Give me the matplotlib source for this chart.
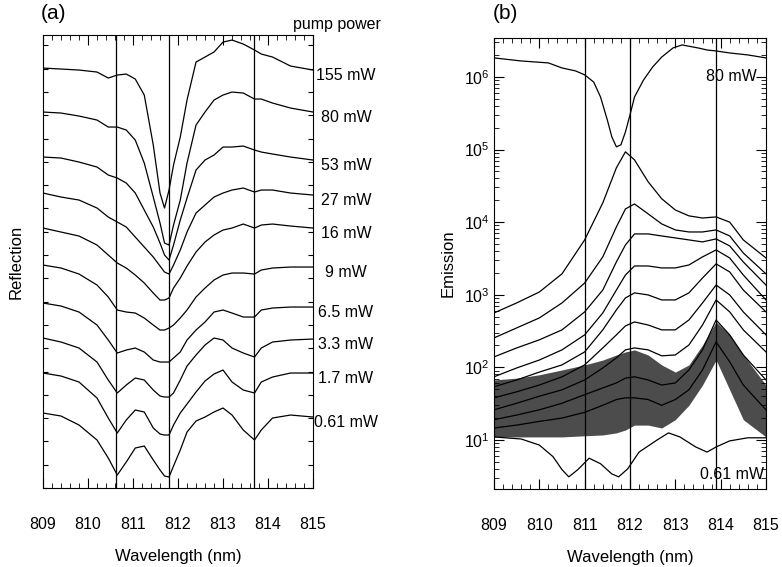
import numpy as np
import matplotlib
matplotlib.use("Agg")
import matplotlib.pyplot as plt
import matplotlib.transforms as mtransforms
from matplotlib.ticker import (MultipleLocator, LogLocator, FixedLocator,
                               NullFormatter, LogFormatterSciNotation)

plt.rcParams['font.family'] = ['Liberation Sans', 'DejaVu Sans']
plt.rcParams['mathtext.fontset'] = 'custom'
plt.rcParams['mathtext.rm'] = 'Liberation Sans'
plt.rcParams['mathtext.default'] = 'regular'

# ---------------- (a) reflection spectra, stacked (arb. units) ----------------
wl_a = [809.0, 809.4, 809.8, 810.2, 810.45, 810.65, 810.85, 811.05, 811.25, 811.45,
        811.6, 811.7, 811.8, 811.9, 812.05, 812.2, 812.4, 812.6, 812.8, 813.0,
        813.2, 813.45, 813.7, 813.85, 814.1, 814.5, 815.0]

pump_labels = ['155 mW', '80 mW', '53 mW', '27 mW', '16 mW', '9 mW',
               '6.5 mW', '3.3 mW', '1.7 mW', '0.61 mW']

refl_155 = [420, 419, 418, 416, 410, 413, 414, 409, 393, 343, 295, 280, 298, 323, 351, 388,
            426, 431, 436, 446, 448, 444, 438, 434, 431, 422, 418]
refl_80 = [376, 375, 372, 368, 361, 361, 358, 348, 325, 291, 265, 245, 243, 263, 288, 325,
           363, 376, 388, 393, 396, 395, 389, 389, 385, 380, 376]
refl_53 = [331, 330, 326, 321, 313, 310, 305, 295, 278, 261, 245, 233, 228, 243, 268, 290,
           318, 328, 333, 341, 341, 342, 338, 336, 334, 331, 328]
refl_27 = [295, 291, 288, 280, 271, 266, 261, 251, 241, 231, 222, 216, 214, 223, 238, 256,
           275, 283, 291, 295, 298, 300, 296, 298, 298, 295, 293]
refl_16 = [260, 256, 252, 243, 233, 225, 220, 213, 205, 195, 188, 188, 190, 200, 210, 222,
           236, 246, 253, 258, 260, 264, 260, 263, 264, 262, 260]
refl_9 = [223, 220, 214, 203, 191, 178, 176, 175, 170, 163, 158, 158, 160, 163, 170, 178,
          191, 200, 208, 213, 215, 215, 214, 218, 220, 221, 221]
refl_6p5 = [185, 182, 176, 163, 148, 135, 138, 140, 136, 128, 126, 126, 126, 130, 136, 148,
            158, 166, 176, 178, 175, 171, 171, 178, 180, 181, 181]
refl_3p3 = [150, 146, 140, 126, 108, 95, 103, 110, 108, 98, 92, 91, 91, 95, 108, 122,
            133, 143, 150, 148, 140, 135, 131, 140, 146, 148, 149]
refl_1p7 = [115, 112, 106, 90, 70, 55, 68, 78, 76, 60, 54, 53, 53, 63, 75, 84,
            96, 107, 114, 118, 106, 98, 95, 106, 111, 115, 115]
refl_0p61 = [75, 72, 63, 48, 30, 13, 26, 40, 42, 28, 18, 12, 11, 22, 38, 56,
             67, 71, 76, 80, 73, 58, 48, 58, 70, 73, 71]

refl = [refl_155, refl_80, refl_53, refl_27, refl_16, refl_9,
        refl_6p5, refl_3p3, refl_1p7, refl_0p61]

lines_a = [810.62, 811.8, 813.69]

# ---------------- (b) emission spectra, log scale ----------------
wl_b = [809.0, 809.5, 810.0, 810.5, 811.0, 811.4, 811.7, 811.9, 812.1, 812.4,
        812.7, 813.0, 813.3, 813.6, 813.9, 814.2, 814.5, 815.0]

em_1 = [561, 771, 1090, 1940, 5690, 1.84e4, 5.6e4, 9.3e4, 7.2e4, 3.6e4,
        2.1e4, 1.47e4, 1.22e4, 1.14e4, 1.18e4, 1.0e4, 5690, 3210]
em_2 = [254, 349, 479, 771, 1450, 3320, 8590, 1.52e4, 1.78e4, 1.30e4,
        9450, 7810, 7320, 7320, 7810, 6450, 3760, 1940]
em_3 = [139, 185, 239, 328, 580, 1160, 2830, 4850, 6880, 6880,
        6450, 6060, 5690, 5340, 5870, 4700, 2830, 1360]
em_4 = [74, 98, 126, 174, 280, 561, 1160, 1870, 2490, 2490,
        2340, 2340, 2570, 3320, 4140, 3210, 1870, 848]
em_5 = [54, 67, 86, 108, 163, 328, 618, 903, 1060, 994,
        848, 848, 1060, 1700, 2660, 2060, 1160, 580]
em_6 = [38, 46, 57, 74, 108, 185, 280, 372, 422, 383,
        328, 328, 449, 771, 1360, 994, 580, 280]
em_7 = [26, 32, 40, 49, 67, 98, 135, 174, 185, 174,
        144, 148, 203, 383, 848, 580, 328, 163]
em_8 = [19, 22, 26, 32, 42, 52, 61, 71, 74, 67,
        57, 61, 92, 174, 449, 280, 148, 67]
em_9 = [14.6, 16, 18, 20, 24, 30, 36, 38, 38, 36,
        30, 36, 49, 92, 224, 119, 57, 26]
emission = [em_1, em_2, em_3, em_4, em_5, em_6, em_7, em_8, em_9]

# envelope of the noisy low-power traces
noise_hi = [67, 71, 79, 92, 108, 126, 148, 163, 174, 148,
            108, 86, 108, 203, 422, 280, 148, 57]
noise_lo = [11, 11, 11, 11, 11.4, 11.7, 12.5, 13.7, 16, 16,
            14.6, 19, 30, 57, 126, 49, 19, 11]

# top trace (80 mW) and bottom trace (0.61 mW)
top_wl = [809.0, 809.6, 810.2, 810.5, 810.8, 811.0, 811.2, 811.35, 811.5, 811.6,
          811.7, 811.8, 811.9, 812.0, 812.1, 812.3, 812.5, 812.7, 812.95, 813.15,
          813.5, 813.7, 813.9, 814.2, 814.6, 815.0]
top_em = [1.83e6, 1.66e6, 1.56e6, 1.33e6, 1.21e6, 1.07e6, 8.5e5, 5.3e5, 2.56e5, 1.49e5,
          1.09e5, 1.16e5, 1.75e5, 3.0e5, 5.3e5, 9.1e5, 1.37e6, 1.88e6, 2.51e6, 2.76e6,
          2.51e6, 2.35e6, 2.28e6, 2.14e6, 2.01e6, 1.83e6]

bot_wl = [809.0, 809.6, 810.0, 810.3, 810.5, 810.65, 810.85, 811.1, 811.35, 811.6,
          811.75, 811.95, 812.2, 812.6, 812.85, 813.1, 813.45, 813.7, 813.9, 814.2,
          814.6, 815.0]
bot_em = [11.0, 10.3, 8.5, 5.9, 3.9, 3.1, 3.9, 5.6, 4.7, 3.4,
          3.1, 4.0, 6.8, 10.0, 12.5, 11.0, 8.0, 6.8, 8.0, 9.7,
          10.7, 10.7]

lines_b = [811.0, 812.0, 813.9]
decades_b = [1e1, 1e2, 1e3, 1e4, 1e5, 1e6]

fig = plt.figure(figsize=(7.82, 5.67), dpi=100)
ax_a = fig.add_axes([0.0550, 0.1393, 0.3453, 0.7989])
ax_b = fig.add_axes([0.6317, 0.1376, 0.3478, 0.7954])

lw = 0.9
fs = 11.5

# ---- panel (a)
for x in lines_a:
    ax_a.axvline(x, color='black', lw=lw)
for curve in refl:
    ax_a.plot(wl_a, curve, color='black', lw=lw)

ax_a.set_xlim(809, 815)
ax_a.set_ylim(0, 453)
ax_a.xaxis.set_major_locator(MultipleLocator(1))
ax_a.xaxis.set_minor_locator(MultipleLocator(0.2))
ax_a.yaxis.set_major_locator(MultipleLocator(23.3))
ax_a.tick_params(axis='both', which='both', direction='in', top=True, right=True)
ax_a.tick_params(axis='x', which='major', length=7, pad=21, labelsize=fs)
ax_a.tick_params(axis='x', which='minor', length=3.5)
ax_a.tick_params(axis='y', which='major', length=3.5, labelleft=False)
ax_a.set_xlabel('Wavelength (nm)', fontsize=12, labelpad=12)
ax_a.set_ylabel('Reflection', fontsize=12, labelpad=14)

trans_a = mtransforms.blended_transform_factory(ax_a.transAxes, ax_a.transData)
for lab, curve in zip(pump_labels, refl):
    ax_a.text(1.122, curve[-1] - 5, lab, transform=trans_a, ha='center', va='center',
              fontsize=fs)

# ---- panel (b)
for x in lines_b:
    ax_b.axvline(x, color='black', lw=lw)
ax_b.fill_between(wl_b, noise_lo, noise_hi, color='black', alpha=0.7, lw=0)
for curve in emission:
    ax_b.plot(wl_b, curve, color='black', lw=lw)
ax_b.plot(top_wl, top_em, color='black', lw=lw)
ax_b.plot(bot_wl, bot_em, color='black', lw=lw)

ax_b.set_yscale('log')
ax_b.set_xlim(809, 815)
ax_b.set_ylim(2.11, 3.44e6)
ax_b.xaxis.set_major_locator(MultipleLocator(1))
ax_b.xaxis.set_minor_locator(MultipleLocator(0.2))
ax_b.yaxis.set_major_locator(FixedLocator(decades_b))
ax_b.yaxis.set_major_formatter(LogFormatterSciNotation())
ax_b.yaxis.set_minor_locator(LogLocator(base=10, subs=np.arange(2, 10), numticks=12))
ax_b.yaxis.set_minor_formatter(NullFormatter())
ax_b.tick_params(axis='both', which='both', direction='in', top=True, right=True)
ax_b.tick_params(axis='x', which='major', length=7, pad=21, labelsize=fs)
ax_b.tick_params(axis='x', which='minor', length=3.5)
ax_b.tick_params(axis='y', which='major', length=7, pad=3, labelsize=fs)
ax_b.tick_params(axis='y', which='minor', length=3.5)
ax_b.set_xlabel('Wavelength (nm)', fontsize=12, labelpad=12)
ax_b.set_ylabel('Emission', fontsize=12, labelpad=6)

ax_b.text(814.23, 1.0e6, '80 mW', ha='center', va='center', fontsize=fs)
ax_b.text(814.25, 3.3, '0.61 mW', ha='center', va='center', fontsize=fs)

fig.text(0.0678, 0.977, '(a)', ha='center', va='center', fontsize=15)
fig.text(0.646, 0.977, '(b)', ha='center', va='center', fontsize=15)
fig.text(0.3747, 0.956, 'pump power', ha='left', va='center', fontsize=fs)

fig.savefig('out.png', dpi=100)
